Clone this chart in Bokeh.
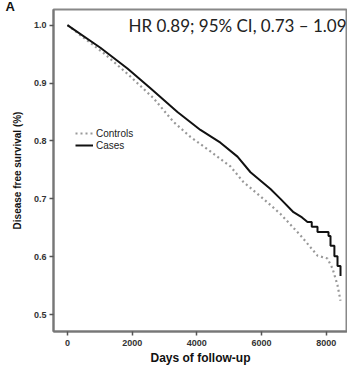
from bokeh.plotting import figure
from bokeh.models import (Range1d, Label, Legend, LegendItem, FixedTicker, NumeralTickFormatter, Title)
from bokeh.embed import file_html
from bokeh.resources import INLINE

# Cases (solid step curve)
cases_days = [0, 1020, 1855, 2566, 3400, 4111, 4729, 5255, 5657, 6275, 6584, 6986, 7250,
              7419, 7550, 7550, 7728, 7728, 8068, 8068, 8130, 8130, 8250, 8250, 8346, 8346, 8439, 8439]
cases_surv = [1.0, 0.961, 0.925, 0.891, 0.850, 0.819, 0.797, 0.773, 0.746, 0.717, 0.700, 0.677, 0.668,
              0.660, 0.660, 0.652, 0.652, 0.643, 0.643, 0.636, 0.636, 0.619, 0.619, 0.601, 0.601, 0.584, 0.584, 0.567]

# Controls (dotted curve)
ctrl_days = [0, 1113, 1855, 2658, 3277, 3802, 4420, 5038, 5440, 6058, 6584, 7202, 7728, 8037, 8191, 8346, 8439]
ctrl_surv = [1.0, 0.952, 0.916, 0.874, 0.833, 0.807, 0.782, 0.756, 0.729, 0.700, 0.674, 0.637, 0.602,
             0.597, 0.580, 0.551, 0.524]

x_ticks = [0, 2000, 4000, 6000, 8000]
y_ticks = [0.5, 0.6, 0.7, 0.8, 0.9, 1.0]

p = figure(width=347, height=367, output_backend="svg", toolbar_location=None,
           x_range=Range1d(-430, 8655), y_range=Range1d(0.471, 1.027),
           min_border_left=53, min_border_top=0, min_border_bottom=33, min_border_right=0)
p.outline_line_color = "#888888"
p.outline_line_width = 2
p.grid.visible = False
p.background_fill_color = "white"

for ax in (p.xaxis[0], p.yaxis[0]):
    ax.axis_line_color = "#777777"
    ax.axis_line_width = 2
    ax.major_tick_line_color = "#555555"
    ax.major_tick_line_width = 1.5
    ax.major_tick_out = 4
    ax.major_tick_in = 0
    ax.minor_tick_line_color = None
    ax.major_label_text_font = "Liberation Sans"
    ax.major_label_text_font_size = "9px"
    ax.major_label_text_color = "#333333"
    ax.major_label_text_font_style = "bold"
    ax.axis_label_text_font = "Liberation Sans"
    ax.axis_label_text_font_style = "bold"
    ax.axis_label_text_color = "#111111"

p.xaxis.ticker = FixedTicker(ticks=x_ticks)
p.yaxis.ticker = FixedTicker(ticks=y_ticks)
p.yaxis.formatter = NumeralTickFormatter(format="0.0")
p.xaxis.axis_label = "Days of follow-up"
p.xaxis.axis_label_text_font_size = "12px"
p.xaxis.axis_label_standoff = 2
p.xaxis.major_label_standoff = 4
p.yaxis.axis_label = "Disease free survival (%)"
p.yaxis.axis_label_text_font_size = "10px"
p.yaxis.axis_label_standoff = 8
p.yaxis.major_label_standoff = 3

r_ctrl = p.line(ctrl_days, ctrl_surv, line_color="#999999", line_width=2.2, line_dash="2 3")
r_case = p.line(cases_days, cases_surv, line_color="#111111", line_width=2)

legend = Legend(items=[LegendItem(label="Controls", renderers=[r_ctrl]),
                       LegendItem(label="Cases", renderers=[r_case])],
                location=(22, 180), border_line_color=None, background_fill_alpha=0,
                label_text_font="Liberation Sans", label_text_font_size="10px",
                label_text_color="#222222", glyph_width=18, glyph_height=12,
                label_standoff=3, spacing=0, padding=2, label_height=12)
p.add_layout(legend)

p.add_layout(Label(x=1886, y=1.0, text="HR 0.89; 95% CI, 0.73 \u2013 1.09",
                   text_font="Lato", text_font_size="17px", text_color="#222222",
                   text_baseline="middle"))
p.add_layout(Title(text="A", align="left", offset=-48, standoff=-8,
                   text_font="Liberation Sans", text_font_style="bold",
                   text_font_size="13px", text_color="#111111"), "above")

open("out.html", "w").write(file_html(p, INLINE))
